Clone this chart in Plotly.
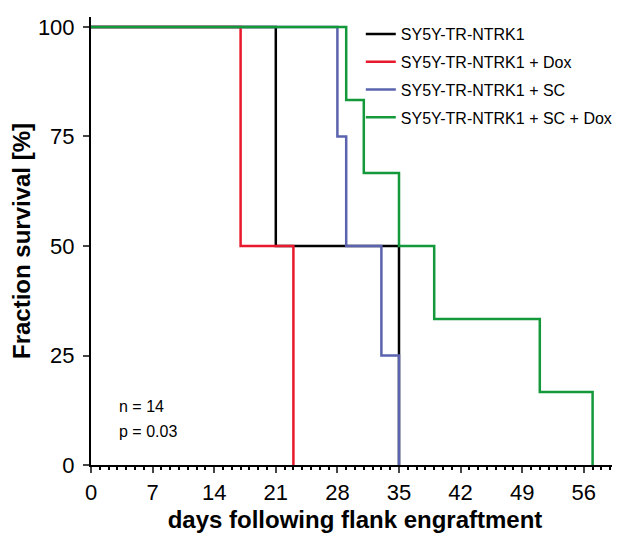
import plotly.graph_objects as go

# Kaplan-Meier step data (days, % survival)
names = ["SY5Y-TR-NTRK1", "SY5Y-TR-NTRK1 + Dox", "SY5Y-TR-NTRK1 + SC", "SY5Y-TR-NTRK1 + SC + Dox"]
ctrl_days = [0, 21, 35]
ctrl_surv = [100, 50, 0]
dox_days = [0, 17, 23]
dox_surv = [100, 50, 0]
sc_days = [0, 28, 29, 33, 35]
sc_surv = [100, 75, 50, 25, 0]
scdox_days = [0, 29, 31, 35, 39, 51, 57]
scdox_surv = [100, 83.33, 66.67, 50, 33.33, 16.67, 0]
x_ticks = [0, 7, 14, 21, 28, 35, 42, 49, 56]
y_ticks = [0, 25, 50, 75, 100]

colors = ["#000000", "#E8192C", "#5B63AE", "#13983A"]
series = [(ctrl_days, ctrl_surv), (dox_days, dox_surv), (sc_days, sc_surv), (scdox_days, scdox_surv)]

fig = go.Figure()
for i, (name, (d, s)) in enumerate(zip(names, series)):
    fig.add_trace(go.Scatter(x=d, y=s, mode="lines", name=name, line_shape="hv",
                             line=dict(color=colors[i], width=2.5), legendgroup=str(i)))

FONT = "Liberation Sans, Arial, sans-serif"
# page body has an 8px margin: compensate so the plot lands where the reference has it
fig.update_layout(
    width=612, height=526,
    margin=dict(l=83, r=1, t=9, b=69, autoexpand=False),
    paper_bgcolor="white", plot_bgcolor="white",
    font=dict(family=FONT, color="black"),
    showlegend=True,
    legend=dict(x=0.511, y=1.0, xanchor="left", yanchor="top", font=dict(size=16, family=FONT),
                bgcolor="rgba(0,0,0,0)", tracegroupgap=4, itemwidth=30),
    xaxis=dict(range=[0, 60], tickvals=x_ticks, ticks="outside", ticklen=6, tickwidth=2,
               showline=True, linewidth=2, linecolor="black", showgrid=False, zeroline=False,
               tickfont=dict(size=22), ticklabelstandoff=1,
               minor=dict(dtick=1, tick0=0, ticks="outside", ticklen=3, tickwidth=1.5, tickcolor="black", showgrid=False),
               title=dict(text="<b>days following flank engraftment</b>", font=dict(size=24), standoff=7)),
    yaxis=dict(range=[0, 102.28], tickvals=y_ticks, ticks="outside", ticklen=6, tickwidth=2,
               showline=True, linewidth=2, linecolor="black", showgrid=False, zeroline=False,
               tickfont=dict(size=22), ticklabelstandoff=4,
               title=dict(text="<b>Fraction survival [%]</b>", font=dict(size=24), standoff=1)),
    annotations=[
        dict(text="n = 14", x=3.0, y=13.3, xref="x", yref="y", xanchor="left", yanchor="middle",
             showarrow=False, font=dict(size=16)),
        dict(text="p = 0.03", x=3.0, y=7.6, xref="x", yref="y", xanchor="left", yanchor="middle",
             showarrow=False, font=dict(size=16)),
    ],
)

fig.write_html("out.html")
